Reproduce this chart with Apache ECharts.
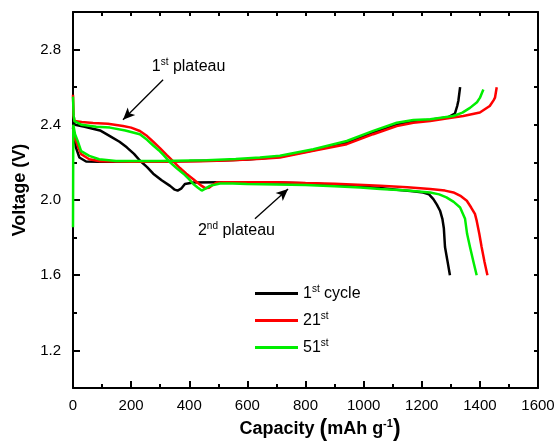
<!DOCTYPE html>
<html lang="en">

<head>
    <meta charset="UTF-8">
    <script src="https://cdn.jsdelivr.net/npm/echarts@6/dist/echarts.min.js"></script>
    <title>Voltage profiles</title>
    <style>
        * {
            margin: 0;
            padding: 0;
        }

        body {
            background: #fff;
        }

        #main {
            width: 559px;
            height: 442px;
        }
    </style>
</head>

<body>
    <div id="main"></div>
    <script>
        // [capacity (mAh/g), voltage (V)]
        var cycle1Discharge = [
            [0, 2.42], [7, 2.40], [40, 2.39], [93, 2.37], [127, 2.34], [160, 2.31], [185, 2.28], [210, 2.245],
            [230, 2.21], [255, 2.175], [276, 2.14], [305, 2.105], [334, 2.075], [350, 2.055], [360, 2.05],
            [372, 2.06], [385, 2.085], [414, 2.093], [500, 2.095], [600, 2.095], [700, 2.093], [827, 2.088],
            [950, 2.075], [1050, 2.065], [1114, 2.055], [1170, 2.046], [1205, 2.04], [1225, 2.03], [1240, 2.005],
            [1252, 1.975], [1263, 1.943], [1271, 1.90], [1276, 1.85], [1280, 1.75], [1288, 1.68], [1297, 1.60]
        ];
        var cycle1Charge = [
            [0, 2.385], [5, 2.33], [10, 2.28], [22, 2.226], [45, 2.205], [93, 2.203], [200, 2.203], [300, 2.205],
            [400, 2.207], [500, 2.21], [600, 2.215], [712, 2.23], [827, 2.265], [942, 2.305], [1033, 2.358],
            [1114, 2.40], [1171, 2.418], [1229, 2.427], [1290, 2.44], [1314, 2.46], [1322, 2.50], [1326, 2.528],
            [1332, 2.60]
        ];
        var cycle21Discharge = [
            [0, 2.56], [2, 2.45], [5, 2.42], [30, 2.415], [69, 2.41], [120, 2.405], [172, 2.394], [200, 2.385],
            [230, 2.367], [255, 2.34], [276, 2.31], [300, 2.275], [322, 2.24], [345, 2.205], [368, 2.17],
            [390, 2.14], [414, 2.11], [430, 2.09], [443, 2.075], [455, 2.063], [468, 2.065], [480, 2.08],
            [494, 2.093], [520, 2.095], [600, 2.095], [700, 2.094], [800, 2.09], [900, 2.087], [1000, 2.08],
            [1057, 2.076], [1150, 2.068], [1229, 2.059], [1280, 2.05], [1309, 2.04], [1335, 2.02], [1355, 1.996],
            [1370, 1.96], [1383, 1.926], [1389, 1.89], [1398, 1.82], [1406, 1.75], [1416, 1.67], [1426, 1.60]
        ];
        var cycle21Charge = [
            [0, 2.34], [10, 2.315], [18, 2.28], [28, 2.244], [56, 2.217], [93, 2.206], [200, 2.203], [300, 2.203],
            [440, 2.206], [550, 2.212], [650, 2.22], [712, 2.226], [827, 2.262], [942, 2.297], [1033, 2.35],
            [1114, 2.393], [1171, 2.411], [1229, 2.42], [1290, 2.435], [1343, 2.447], [1400, 2.465], [1434, 2.50],
            [1447, 2.53], [1452, 2.544], [1458, 2.60]
        ];
        var cycle51Discharge = [
            [0, 2.55], [2, 2.45], [5, 2.42], [30, 2.40], [80, 2.39], [127, 2.385], [180, 2.37], [230, 2.35],
            [255, 2.32], [276, 2.29], [295, 2.265], [311, 2.24], [334, 2.20], [356, 2.17], [380, 2.14],
            [400, 2.11], [414, 2.085], [430, 2.065], [443, 2.05], [457, 2.062], [471, 2.075], [506, 2.088],
            [550, 2.088], [598, 2.085], [700, 2.083], [800, 2.08], [900, 2.073], [988, 2.067], [1057, 2.059],
            [1150, 2.05], [1229, 2.04], [1260, 2.03], [1285, 2.014], [1310, 1.99], [1332, 1.96], [1349, 1.90],
            [1356, 1.82], [1366, 1.75], [1378, 1.67], [1389, 1.60]
        ];
        var cycle51Charge = [
            [0, 1.855], [1, 2.40], [7, 2.35], [16, 2.314], [28, 2.26], [56, 2.235], [90, 2.217], [148, 2.208],
            [300, 2.208], [460, 2.212], [560, 2.218], [643, 2.226], [712, 2.235], [827, 2.27], [942, 2.314],
            [1033, 2.368], [1114, 2.411], [1171, 2.425], [1229, 2.43], [1309, 2.447], [1340, 2.465], [1366, 2.49],
            [1390, 2.52], [1400, 2.543], [1412, 2.588]
        ];

        var cycleNames = ['1st cycle', '21st', '51st'];
        var cycleLabels = ['1{sup|st} cycle', '21{sup|st}', '51{sup|st}'];
        var cycleColors = ['#000000', '#ff0000', '#00ee00'];
        var cycleData = [
            [cycle1Discharge, cycle1Charge],
            [cycle21Discharge, cycle21Charge],
            [cycle51Discharge, cycle51Charge]
        ];

        var xLabelTicks = [0, 200, 400, 600, 800, 1000, 1200, 1400, 1600];
        var yLabelTicks = [1.2, 1.6, 2.0, 2.4, 2.8];

        // annotations: text position and arrow [tail, head] in data units
        var plateau1 = { text: '1{sup|st} plateau', at: [271, 2.71], arrow: [[310, 2.64], [172, 2.427]] };
        var plateau2 = { text: '2{sup|nd} plateau', at: [430, 1.835], arrow: [[626, 1.90], [740, 2.059]] };

        var font = 'Liberation Sans, Arial, sans-serif';
        var chart = echarts.init(document.getElementById('main'));

        var series = [];
        cycleData.forEach(function (pair, i) {
            pair.forEach(function (d) {
                series.push({
                    name: cycleNames[i],
                    type: 'line',
                    data: d,
                    symbol: 'none',
                    lineStyle: { color: cycleColors[i], width: 2.5 },
                    itemStyle: { color: cycleColors[i] }
                });
            });
        });
        series.push({
            name: 'arrows',
            type: 'line',
            data: [],
            silent: true,
            markLine: {
                silent: true,
                symbol: ['none', 'arrow'],
                symbolSize: [8, 12],
                label: { show: false },
                lineStyle: { color: '#000', width: 1.3, type: 'solid' },
                data: [
                    [{ coord: plateau1.arrow[0] }, { coord: plateau1.arrow[1] }],
                    [{ coord: plateau2.arrow[0] }, { coord: plateau2.arrow[1] }]
                ]
            }
        });

        var tickColor = { color: '#000', width: 2 };
        var supStyle = { fontSize: 10, verticalAlign: 'top', lineHeight: 10, fontFamily: font, color: '#000' };

        var option = {
            animation: false,
            grid: { left: 73, right: 21, top: 12, bottom: 54, outerBoundsMode: 'none', containLabel: false },
            legend: {
                data: cycleNames,
                orient: 'vertical',
                left: 250,
                top: 279,
                icon: 'rect',
                itemWidth: 43,
                itemHeight: 3,
                itemGap: 8,
                formatter: function (n) { return cycleLabels[cycleNames.indexOf(n)]; },
                textStyle: {
                    fontFamily: font, fontSize: 16, color: '#000', lineHeight: 19,
                    rich: { sup: supStyle }
                }
            },
            xAxis: [
                {
                    type: 'value', position: 'bottom', min: 0, max: 1600, interval: 200,
                    axisLine: { onZero: false, lineStyle: tickColor },
                    axisTick: { inside: true, length: 7, lineStyle: tickColor },
                    minorTick: { show: true, splitNumber: 2, length: 4, lineStyle: tickColor },
                    splitLine: { show: false },
                    axisLabel: {
                        margin: 10, fontFamily: font, fontSize: 15, color: '#000',
                        customValues: xLabelTicks,
                        formatter: function (v) { return String(v); }
                    },
                    name: 'Capacity {p|(}mAh g{s|-1}{p|)}',
                    nameLocation: 'middle',
                    nameGap: 30,
                    nameTextStyle: {
                        fontFamily: font, fontSize: 18, fontWeight: 'bold', color: '#000',
                        padding: [0, 0, 0, 29],
                        rich: {
                            p: { fontSize: 23, fontFamily: font, color: '#000' },
                            s: { fontSize: 11, fontWeight: 'bold', verticalAlign: 'top', lineHeight: 11, fontFamily: font, color: '#000' }
                        }
                    }
                },
                {
                    type: 'value', position: 'top', min: 0, max: 1600, interval: 100,
                    axisLine: { onZero: false, lineStyle: tickColor },
                    axisTick: { inside: true, length: 4, lineStyle: tickColor },
                    axisLabel: { show: false },
                    splitLine: { show: false }
                }
            ],
            yAxis: [
                {
                    type: 'value', position: 'left', min: 1, max: 3,
                    axisLine: { onZero: false, lineStyle: tickColor },
                    axisTick: { inside: true, length: 7, lineStyle: tickColor, customValues: yLabelTicks },
                    splitLine: { show: false },
                    axisLabel: {
                        margin: 12, fontFamily: font, fontSize: 15, color: '#000',
                        customValues: yLabelTicks,
                        formatter: function (v) { return v.toFixed(1); }
                    },
                    name: 'Voltage (V)',
                    nameLocation: 'middle',
                    nameGap: 44,
                    nameTextStyle: {
                        fontFamily: font, fontSize: 18, fontWeight: 'bold', color: '#000',
                        padding: [0, 0, 0, 20]
                    }
                },
                {
                    type: 'value', position: 'left', min: 1, max: 3, interval: 0.2,
                    axisLine: { show: false, onZero: false },
                    axisTick: { inside: true, length: 4, lineStyle: tickColor },
                    axisLabel: { show: false },
                    splitLine: { show: false }
                },
                {
                    type: 'value', position: 'right', min: 1, max: 3, interval: 0.2,
                    axisLine: { onZero: false, lineStyle: tickColor },
                    axisTick: { inside: true, length: 4, lineStyle: tickColor },
                    axisLabel: { show: false },
                    splitLine: { show: false }
                }
            ],
            series: series
        };

        chart.setOption(option);

        // annotation texts placed at data coordinates
        var notes = [plateau1, plateau2].map(function (p) {
            var px = chart.convertToPixel({ xAxisIndex: 0, yAxisIndex: 0 }, p.at);
            return {
                type: 'text',
                x: px[0],
                y: px[1],
                silent: true,
                style: {
                    text: p.text,
                    font: '16px ' + font,
                    fill: '#000',
                    align: 'left',
                    verticalAlign: 'middle',
                    lineHeight: 19,
                    rich: { sup: supStyle }
                }
            };
        });
        chart.setOption({ graphic: notes });
    </script>
</body>

</html>
